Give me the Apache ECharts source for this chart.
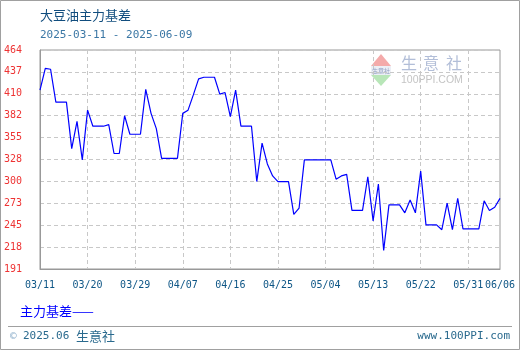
<!DOCTYPE html>
<html>
<head>
<meta charset="utf-8">
<script src="https://cdn.jsdelivr.net/npm/echarts@6/dist/echarts.min.js"></script>
<style>
html,body{margin:0;padding:0;background:#fff;}
#chart{width:520px;height:350px;}
</style>
</head>
<body>
<div id="chart"></div>
<script>
const categories = [
 '03/11','03/12','03/13','03/14','03/15','03/16','03/17','03/18','03/19','03/20',
 '03/21','03/22','03/23','03/24','03/25','03/26','03/27','03/28','03/29','03/30','03/31',
 '04/01','04/02','04/03','04/04','04/05','04/06','04/07','04/08','04/09','04/10',
 '04/11','04/12','04/13','04/14','04/15','04/16','04/17','04/18','04/19','04/20',
 '04/21','04/22','04/23','04/24','04/25','04/26','04/27','04/28','04/29','04/30',
 '05/01','05/02','05/03','05/04','05/05','05/06','05/07','05/08','05/09','05/10',
 '05/11','05/12','05/13','05/14','05/15','05/16','05/17','05/18','05/19','05/20',
 '05/21','05/22','05/23','05/24','05/25','05/26','05/27','05/28','05/29','05/30','05/31',
 '06/01','06/02','06/03','06/04','06/05','06/06'
];
const basisValues = [
 414,441,440,399,399,399,341,375,327,389,
 369,369,369,371,335,335,382,359,359,359,
 415,385,366,329,329,329,329,385,389,408,
 428,430,430,430,409,411,381,414,369,369,
 369,300,348,322,307,300,300,300,259,267,
 327,327,327,327,327,327,303,307,309,264,
 264,264,306,251,297,214,271,271,271,261,
 277,261,313,246,246,246,240,273,240,279,
 241,241,241,241,276,264,268,279
];
const yTickLabels = ['191','218','245','273','300','328','355','382','410','437','464'];
const yMin = 191, yMax = 464;
const seriesName = '主力基差';
const titleText = '大豆油主力基差';
const dateRangeText = '2025-03-11 - 2025-06-09';

const chart = echarts.init(document.getElementById('chart'), null, {renderer:'canvas'});
const showX = (i) => (i % 9 === 0) || i === categories.length - 1;
const mono = '"DejaVu Sans Mono", monospace';
const cjk = '"Noto Sans CJK SC", sans-serif';

chart.setOption({
  animation: false,
  backgroundColor: '#ffffff',
  grid: {left: 40, top: 50, width: 460, height: 219, show: true, borderColor: '#999', borderWidth: 1, containLabel: false},
  xAxis: {
    type: 'category', data: categories, boundaryGap: false,
    axisLine: {show: true, lineStyle: {color: '#999', width: 1}},
    axisTick: {show: false},
    axisLabel: {interval: (i) => showX(i), margin: 11, color: '#0e5686', fontFamily: mono, fontSize: 10},
    splitLine: {show: true, interval: (i) => (i % 9 === 0 && i > 0), lineStyle: {color: '#c8c8c8', type: [4, 3], width: 1}}
  },
  yAxis: [
    {type: 'value', min: yMin, max: yMax, show: false, splitLine: {show: false}},
    {type: 'value', min: 0, max: 10, interval: 1, position: 'left',
     axisLine: {show: true, lineStyle: {color: '#999', width: 1}},
     axisTick: {show: false},
     axisLabel: {margin: 18, color: '#ee3333', fontFamily: mono, fontSize: 10, formatter: (v) => yTickLabels[Math.round(v)]},
     splitLine: {show: true, lineStyle: {color: '#c8c8c8', type: [4, 3], width: 1}}}
  ],
  series: [{
    name: seriesName, type: 'line', yAxisIndex: 0, data: basisValues,
    symbol: 'none', lineStyle: {color: '#0000ff', width: 1.2}, z: 5
  }],
  graphic: [
    {type: 'rect', shape: {x: 0.5, y: 0.5, width: 519, height: 349}, style: {fill: 'none', stroke: '#a0a0a0', lineWidth: 1}, z: 1},
    {type: 'text', x: 40, y: 15, style: {text: titleText, font: '13px ' + cjk, fill: '#114d7e', textVerticalAlign: 'middle'}},
    {type: 'text', x: 40, y: 35, style: {text: dateRangeText, font: '11px ' + mono, fill: '#3b77a5', textVerticalAlign: 'middle'}},
    // watermark
    {type: 'polygon', z: -1, shape: {points: [[381, 54], [371, 66], [391, 66]]}, style: {fill: '#f4aaaa'}},
    {type: 'rect', z: -1, shape: {x: 371, y: 66, width: 20, height: 9}, style: {fill: '#eceff6'}},
    {type: 'text', z: -1, x: 381, y: 70.5, style: {text: '生意社', font: '6px ' + cjk, fill: '#8e9cc0', textAlign: 'center', textVerticalAlign: 'middle'}},
    {type: 'polygon', z: -1, shape: {points: [[371, 75], [391, 75], [381, 86]]}, style: {fill: '#b8e6b8'}},
    {type: 'text', z: -1, x: 409, y: 63, style: {text: '生', font: '16px ' + cjk, fill: '#b2bed8', textAlign: 'center', textVerticalAlign: 'middle'}},
    {type: 'text', z: -1, x: 431, y: 63, style: {text: '意', font: '16px ' + cjk, fill: '#b2bed8', textAlign: 'center', textVerticalAlign: 'middle'}},
    {type: 'text', z: -1, x: 454, y: 63, style: {text: '社', font: '16px ' + cjk, fill: '#b2bed8', textAlign: 'center', textVerticalAlign: 'middle'}},
    {type: 'text', z: -1, x: 401, y: 80.5, style: {text: '100PPI.COM', font: '10.5px "Liberation Sans", sans-serif', fill: '#c4c4c4', textVerticalAlign: 'middle'}},
    // legend
    {type: 'text', x: 20, y: 311, style: {text: seriesName + '——', font: '13px ' + cjk, fill: '#0000ff', textVerticalAlign: 'middle'}},
    // footer
    {type: 'line', shape: {x1: 8, y1: 326.5, x2: 512, y2: 326.5}, style: {stroke: '#a0a0a0', lineWidth: 1}},
    {type: 'text', x: 10, y: 336, style: {text: '©', font: '11px ' + mono, fill: '#8fb0cc', textVerticalAlign: 'middle'}},
    {type: 'text', x: 23, y: 336, style: {text: '2025.06', font: '11px ' + mono, fill: '#2a6a8e', textVerticalAlign: 'middle'}},
    {type: 'text', x: 76, y: 336, style: {text: '生意社', font: '13px ' + cjk, fill: '#2a6a8e', textVerticalAlign: 'middle'}},
    {type: 'text', x: 510, y: 336, style: {text: 'www.100PPI.com', font: '11px ' + mono, fill: '#2a6a8e', textAlign: 'right', textVerticalAlign: 'middle'}}
  ]
});
</script>
</body>
</html>
